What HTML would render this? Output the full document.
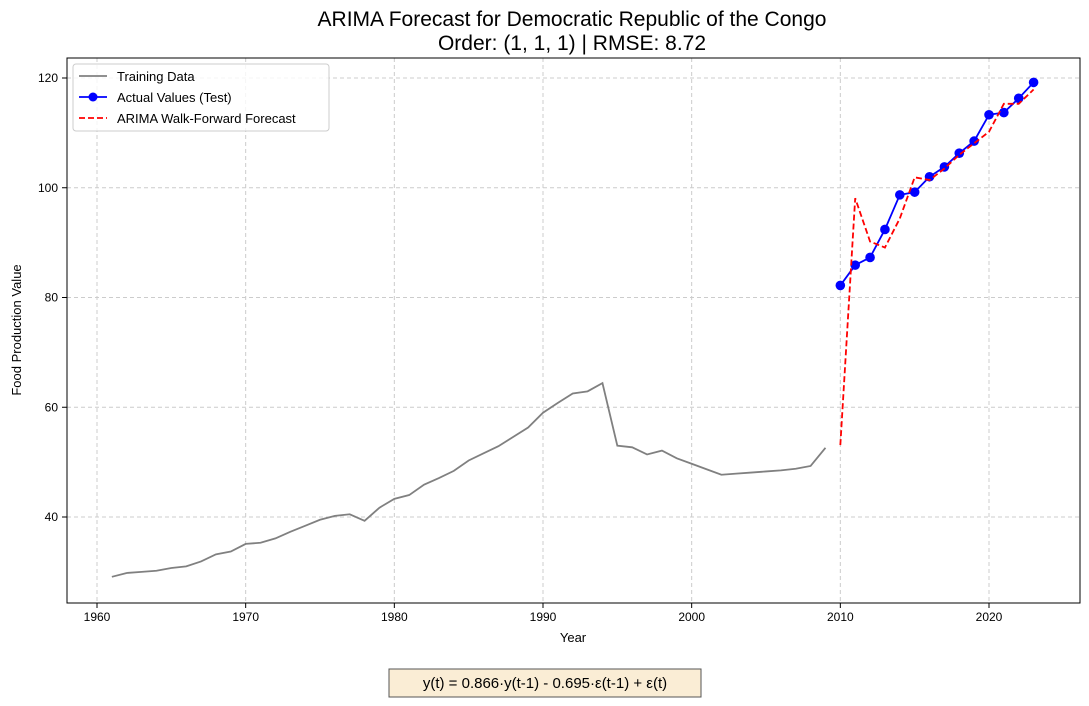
<!DOCTYPE html>
<html><head><meta charset="utf-8"><style>
body{margin:0;background:#fff;font-family:"Liberation Sans","DejaVu Sans",sans-serif;}
svg text{font-family:"Liberation Sans","DejaVu Sans",sans-serif;}
</style></head><body>
<svg id="chart" width="1089" height="701">
<text x="572" y="26" font-size="21" text-anchor="middle">ARIMA Forecast for Democratic Republic of the Congo</text>
<text x="572" y="50" font-size="21" text-anchor="middle">Order: (1, 1, 1) | RMSE: 8.72</text>
<g id="grid"></g><g id="ticks"></g><g id="series"></g>
<rect x="67" y="58" width="1013" height="545" fill="none" stroke="#000" stroke-width="1"/>
<text x="573" y="642" font-size="13" text-anchor="middle">Year</text>
<text transform="translate(21,330) rotate(-90)" font-size="13" text-anchor="middle">Food Production Value</text>
<g>
<rect x="73" y="64" width="256" height="67" rx="3" fill="#fff" fill-opacity="0.8" stroke="#ccc"/>
<line x1="79" y1="76" x2="107" y2="76" stroke="gray" stroke-width="1.8"/>
<text x="117" y="81" font-size="13">Training Data</text>
<line x1="79" y1="97" x2="107" y2="97" stroke="blue" stroke-width="1.8"/>
<circle cx="93" cy="97" r="4.5" fill="blue"/>
<text x="117" y="102" font-size="13">Actual Values (Test)</text>
<line x1="79" y1="118" x2="107" y2="118" stroke="red" stroke-width="1.8" stroke-dasharray="6,3"/>
<text x="117" y="123" font-size="13">ARIMA Walk-Forward Forecast</text>
</g>
<g>
<rect x="389" y="669" width="312" height="28" fill="#f5deb3" fill-opacity="0.55" stroke="#555"/>
<text x="545" y="688" font-size="15" text-anchor="middle">y(t) =  0.866·y(t-1) - 0.695·ε(t-1) + ε(t)</text>
</g>
</svg>
<script>
const trainYears=[1961,1962,1963,1964,1965,1966,1967,1968,1969,1970,1971,1972,1973,1974,1975,1976,1977,1978,1979,1980,1981,1982,1983,1984,1985,1986,1987,1988,1989,1990,1991,1992,1993,1994,1995,1996,1997,1998,1999,2000,2001,2002,2003,2004,2005,2006,2007,2008,2009];
const trainValues=[29.1,29.8,30.0,30.2,30.7,31.0,31.9,33.2,33.7,35.1,35.3,36.1,37.3,38.4,39.5,40.2,40.5,39.3,41.7,43.3,44.0,45.9,47.1,48.4,50.3,51.6,52.9,54.6,56.3,59.0,60.8,62.5,62.9,64.4,53.0,52.7,51.4,52.1,50.7,49.7,48.7,47.7,47.9,48.1,48.3,48.5,48.8,49.3,52.6];
const testYears=[2010,2011,2012,2013,2014,2015,2016,2017,2018,2019,2020,2021,2022,2023];
const actualValues=[82.2,85.9,87.3,92.4,98.7,99.2,102.0,103.8,106.3,108.5,113.3,113.7,116.3,119.2];
const forecastValues=[53.1,98.1,90.2,89.1,94.4,101.9,101.4,103.5,106.0,108.1,110.2,115.3,115.3,117.9];
const xTicks=[1960,1970,1980,1990,2000,2010,2020];
const yTicks=[40,60,80,100,120];
const NS="http://www.w3.org/2000/svg";
function X(v){return 97+(v-1960)*(989-97)/60;}
function Y(v){return 517-(v-40)*(517-78)/80;}
function mk(parent,tag,attrs){const e=document.createElementNS(NS,tag);for(const k in attrs)e.setAttribute(k,attrs[k]);document.getElementById(parent).appendChild(e);return e;}
xTicks.forEach(t=>{
 const g=mk('grid','line',{x1:X(t),x2:X(t),y1:58,y2:603,stroke:'#ccc','stroke-dasharray':'4,3'});
 
 
 mk('ticks','line',{x1:X(t),x2:X(t),y1:603,y2:608,stroke:'#000'});
 const tx=mk('ticks','text',{x:X(t),y:621,'font-size':12,'text-anchor':'middle'});
 tx.textContent=t;
 
 
});
yTicks.forEach(t=>{
 const g=mk('grid','line',{x1:67,x2:1080,y1:Y(t),y2:Y(t),stroke:'#ccc','stroke-dasharray':'4,3'});
 
 
 mk('ticks','line',{x1:62,x2:67,y1:Y(t),y2:Y(t),stroke:'#000'});
 const tx=mk('ticks','text',{x:58,y:Y(t)+4,'font-size':12,'text-anchor':'end'});
 tx.textContent=t;
 
 
});
function pts(xs,ys){return xs.map((x,i)=>X(x)+','+Y(ys[i])).join(' ');}
const tl=mk('series','polyline',{points:pts(trainYears,trainValues),fill:'none',stroke:'gray','stroke-width':1.8});


const al=mk('series','polyline',{points:pts(testYears,actualValues),fill:'none',stroke:'blue','stroke-width':1.8});


testYears.forEach((y,i)=>{
 const c=mk('series','circle',{cx:X(y),cy:Y(actualValues[i]),r:4.8,fill:'blue'});
 
 
});
const fl=mk('series','polyline',{points:pts(testYears,forecastValues),fill:'none',stroke:'red','stroke-width':1.8,'stroke-dasharray':'6,3'});


</script>
</body></html>
